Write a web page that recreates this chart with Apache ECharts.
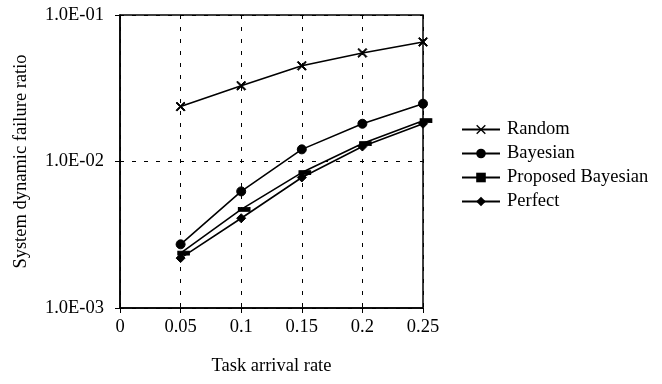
<!DOCTYPE html>
<html><head><meta charset="utf-8">
<script src="https://cdn.jsdelivr.net/npm/echarts@6/dist/echarts.min.js"></script>
<style>html,body{margin:0;padding:0;background:#fff}#c{width:662px;height:384px}</style>
</head><body><div id="c"></div>
<script>
const xValues = [0.05, 0.1, 0.15, 0.2, 0.25];
const randomVals = [0.0237, 0.0329, 0.0450, 0.0551, 0.0655];
const bayesianVals = [0.00272, 0.00625, 0.0121, 0.0181, 0.0248];
const proposedVals = [0.00237, 0.00471, 0.0084, 0.01325, 0.0190];
const perfectVals = [0.00219, 0.0041, 0.00778, 0.01265, 0.0181];
const seriesNames = ['Random', 'Bayesian', 'Proposed Bayesian', 'Perfect'];

const font = 'Liberation Serif';
const fs = 18.5;
function pairs(v){ return xValues.map((x,i)=>[x, v[i]]); }
function fmtY(v){
  const e = Math.round(Math.log10(v));
  const a = Math.abs(e);
  return '1.0E' + (e<0?'-':'') + (a<10?'0':'') + a;
}
const lineStyle = {color:'#000', width:1.6};
const itemStyle = {color:'#000', borderColor:'#000'};
const chart = echarts.init(document.getElementById('c'), null, {renderer:'canvas'});
chart.setOption({
  animation:false,
  backgroundColor:'#fff',
  textStyle:{fontFamily:font},
  grid:{left:120, right:239, top:15, bottom:76, show:true, borderColor:'#000', borderWidth:1.5},
  legend:{
    orient:'vertical', left:461, top:120, padding:0, itemWidth:38, itemHeight:12, itemGap:5,
    textStyle:{fontFamily:font, fontSize:fs, color:'#000', padding:[0,0,0,2]},
    data:seriesNames
  },
  xAxis:{
    type:'value', min:0, max:0.25, interval:0.05,
    name:'Task arrival rate', nameLocation:'middle', nameGap:49,
    nameTextStyle:{fontFamily:font, fontSize:fs, color:'#000'},
    axisLine:{onZero:false, lineStyle:{color:'#000', width:1.5}},
    axisTick:{show:true, length:5, lineStyle:{color:'#000'}},
    axisLabel:{fontFamily:font, fontSize:fs, color:'#000', margin:10, formatter:v=>String(+v.toFixed(2))},
    splitLine:{show:true, lineStyle:{color:'#000', type:[4,8], width:1}}
  },
  yAxis:{
    type:'log', logBase:10, min:0.001, max:0.1,
    name:'System dynamic failure ratio', nameLocation:'middle', nameGap:89,
    nameTextStyle:{fontFamily:font, fontSize:fs, color:'#000'},
    axisLine:{lineStyle:{color:'#000', width:1.5}},
    axisTick:{show:true, length:5, lineStyle:{color:'#000'}},
    axisLabel:{fontFamily:font, fontSize:fs, color:'#000', margin:16, formatter:fmtY},
    splitLine:{show:true, lineStyle:{color:'#000', type:[4,8], width:1}}
  },
  series:[
    {name:'Random', type:'line', data:pairs(randomVals), lineStyle, itemStyle,
     symbol:'path://M0,1L1,0L5,4L9,0L10,1L6,5L10,9L9,10L5,6L1,10L0,9L4,5Z', symbolSize:9},
    {name:'Bayesian', type:'line', data:pairs(bayesianVals), lineStyle, itemStyle,
     symbol:'circle', symbolSize:9},
    {name:'Proposed Bayesian', type:'line', data:pairs(proposedVals), lineStyle, itemStyle,
     symbol:'rect', symbolSize:[11,4], symbolOffset:[3,0]},
    {name:'Perfect', type:'line', data:pairs(perfectVals), lineStyle, itemStyle,
     symbol:'diamond', symbolSize:9}
  ]
});
</script></body></html>
